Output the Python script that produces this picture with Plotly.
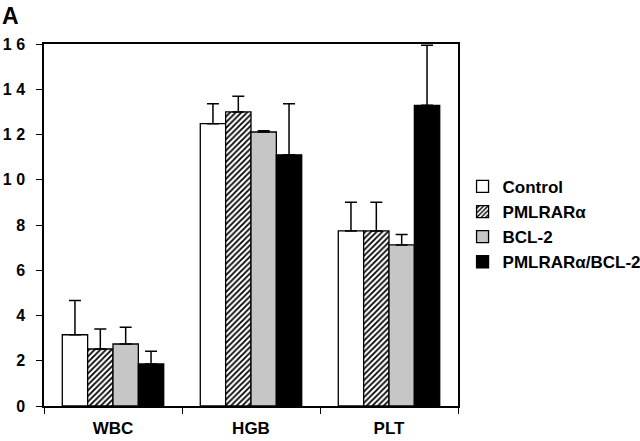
import plotly.graph_objects as go

categories = ["WBC", "HGB", "PLT"]
series_names = ["Control", "PMLRARα", "BCL-2", "PMLRARα/BCL-2"]
control = [3.15, 12.48, 7.74]
control_err = [1.51, 0.88, 1.27]
pmlrara = [2.52, 13.0, 7.74]
pmlrara_err = [0.88, 0.69, 1.27]
bcl2 = [2.74, 12.11, 7.12]
bcl2_err = [0.74, 0.06, 0.46]
combo = [1.86, 11.1, 13.29]
combo_err = [0.56, 2.26, 2.65]
y_tick_vals = [0, 2, 4, 6, 8, 10, 12, 14, 16]
y_tick_text = ["0", "2", "4", "6", "8", "1 0", "1 2", "1 4", "1 6"]

values = [control, pmlrara, bcl2, combo]
errors = [control_err, pmlrara_err, bcl2_err, combo_err]
fills = ["white", "white", "#c6c6c6", "black"]
patterns = [None, dict(shape="/", fgcolor="black", bgcolor="white", size=4, solidity=0.45, fillmode="replace"), None, None]

font = "Arial, Liberation Sans, sans-serif"
fig = go.Figure()
for name, v, e, c, p in zip(series_names, values, errors, fills, patterns):
    marker = dict(color=c, line=dict(color="black", width=1.3))
    if p:
        marker["pattern"] = p
    fig.add_trace(go.Bar(
        x=categories, y=v, name=name, marker=marker,
        error_y=dict(type="data", array=e, arrayminus=[0] * len(e), symmetric=False,
                     color="black", thickness=1.5, width=6),
    ))

fig.update_layout(
    width=640, height=441,
    margin=dict(l=44, r=182, t=44, b=35, autoexpand=False),
    paper_bgcolor="white", plot_bgcolor="white",
    barmode="group", bargap=0.265, bargroupgap=0,
    font=dict(family=font, size=16, color="black"),
    legend=dict(x=1.011, y=0.655, xanchor="left", yanchor="top",
                font=dict(family=font, size=17, color="black", weight="bold"),
                tracegroupgap=0, itemwidth=30, bgcolor="rgba(0,0,0,0)"),
    showlegend=True,
)
fig.update_xaxes(
    showline=True, linecolor="black", linewidth=1.5, mirror=True,
    ticks="outside", tickson="boundaries", ticklen=6, tickwidth=1.2, tickcolor="black",
    tickfont=dict(family=font, size=17, color="black", weight="bold"),
    ticklabelstandoff=6,
    showgrid=False,
)
fig.update_yaxes(
    range=[0, 16], tickvals=y_tick_vals, ticktext=y_tick_text,
    showline=True, linecolor="black", linewidth=1.5, mirror=True,
    ticks="outside", ticklen=6, tickwidth=1.2, tickcolor="black",
    tickfont=dict(family=font, size=16, color="black", weight="bold"),
    ticklabelstandoff=8,
    showgrid=False, zeroline=False,
)
fig.add_annotation(text="<b>A</b>", xref="paper", yref="paper", x=-0.107, y=1.118,
                   xanchor="left", yanchor="top", showarrow=False,
                   font=dict(family=font, size=23, color="black"))
fig.write_html("out.html", config={"displayModeBar": False},
               post_script="document.body.style.margin='0';")
